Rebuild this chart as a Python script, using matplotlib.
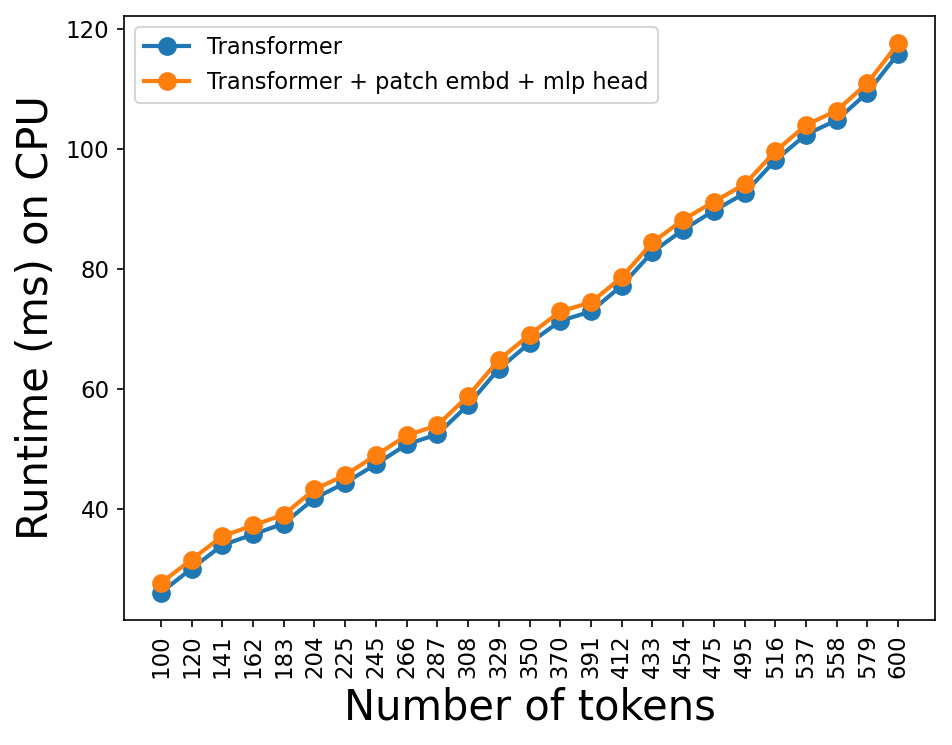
import numpy as np
from matplotlib import pyplot as plt

tokens = ['100', '120', '141', '162', '183', '204', '225', '245', '266', '287',
          '308', '329', '350', '370', '391', '412', '433', '454', '475', '495',
          '516', '537', '558', '579', '600']

runtime_transformer = [26.0, 30.0, 33.9, 35.7, 37.5, 41.7, 44.3, 47.4, 50.7, 52.4,
                       57.3, 63.3, 67.6, 71.3, 72.9, 77.2, 82.8, 86.5, 89.7, 92.6,
                       98.1, 102.4, 104.8, 109.4, 115.9]

runtime_full = [27.6, 31.5, 35.4, 37.2, 39.0, 43.2, 45.6, 48.9, 52.2, 53.9,
                58.8, 64.8, 69.0, 72.9, 74.4, 78.6, 84.4, 88.2, 91.2, 94.1,
                99.6, 104.0, 106.4, 111.0, 117.6]

fig = plt.figure(figsize=(952/150, 745/150), dpi=150)
ax = fig.add_axes([124/952, 1 - 620/745, (935-124)/952, (620-16)/745])

ax.plot(tokens, runtime_transformer, marker='o', markersize=8, linewidth=2, label='Transformer')
ax.plot(tokens, runtime_full, marker='o', markersize=8, linewidth=2, label='Transformer + patch embd + mlp head')

ax.tick_params(axis='x', labelrotation=90, labelsize=11)
ax.tick_params(axis='y', labelsize=11)
ax.set_xlabel('Number of tokens', fontsize=20)
ax.set_ylabel('Runtime (ms) on CPU', fontsize=20)
ax.legend(loc='upper left', fontsize=10.8)

fig.savefig('out.png', dpi=150)
